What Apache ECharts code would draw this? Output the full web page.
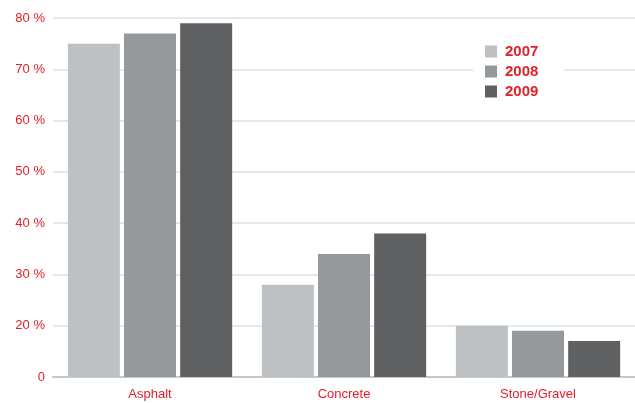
<!DOCTYPE html>
<html>
<head>
<meta charset="utf-8">
<script src="https://cdn.jsdelivr.net/npm/echarts@6/dist/echarts.min.js"></script>
<style>
  html, body { margin: 0; padding: 0; background: #fff; }
  #chart { width: 635px; height: 403px; }
</style>
</head>
<body>
<div id="chart"></div>
<script>
const categories = ['Asphalt', 'Concrete', 'Stone/Gravel'];
const years = ['2007', '2008', '2009'];
const values2007 = [75, 28, 20];
const values2008 = [77, 34, 19];
const values2009 = [79, 38, 17];
const colors = ['#bdc1c4', '#96999c', '#5f6062'];
const red = '#e3202a';
const font = '"Liberation Sans", Arial, sans-serif';

// the axis starts at 10, but the bottom tick is labelled "0"
const yMin = 10, yMax = 80, yStep = 10;

const chart = echarts.init(document.getElementById('chart'));

const seriesData = [values2007, values2008, values2009];

const option = {
  animation: false,
  grid: { left: 53, right: 0, top: 18, bottom: 26 },
  legend: {
    orient: 'vertical',
    left: 473,
    top: 41,
    itemWidth: 12,
    itemHeight: 12,
    itemGap: 5,
    padding: [3, 26, 3, 12],
    backgroundColor: '#fff',
    icon: 'rect',
    data: years,
    textStyle: { color: red, fontWeight: 'bold', fontSize: 15, fontFamily: font, padding: [0, 0, 0, 3] }
  },
  xAxis: {
    type: 'category',
    data: categories,
    axisTick: { show: false },
    axisLine: { lineStyle: { color: '#c4c8cc', width: 2 } },
    axisLabel: { color: red, fontSize: 13, fontFamily: font, margin: 11 }
  },
  yAxis: {
    type: 'value',
    min: yMin,
    max: yMax,
    interval: yStep,
    axisLine: { show: false },
    axisTick: { show: false },
    splitLine: { lineStyle: { color: '#e3e8ee', width: 2 } },
    axisLabel: {
      color: red,
      fontSize: 13,
      fontFamily: font,
      margin: 8,
      formatter: v => (v === yMin ? '0' : v + ' %')
    }
  },
  series: years.map((y, i) => ({
    name: y,
    type: 'bar',
    data: seriesData[i],
    barWidth: 52,
    barGap: '8%',
    itemStyle: { color: colors[i] }
  }))
};

chart.setOption(option);
</script>
</body>
</html>
